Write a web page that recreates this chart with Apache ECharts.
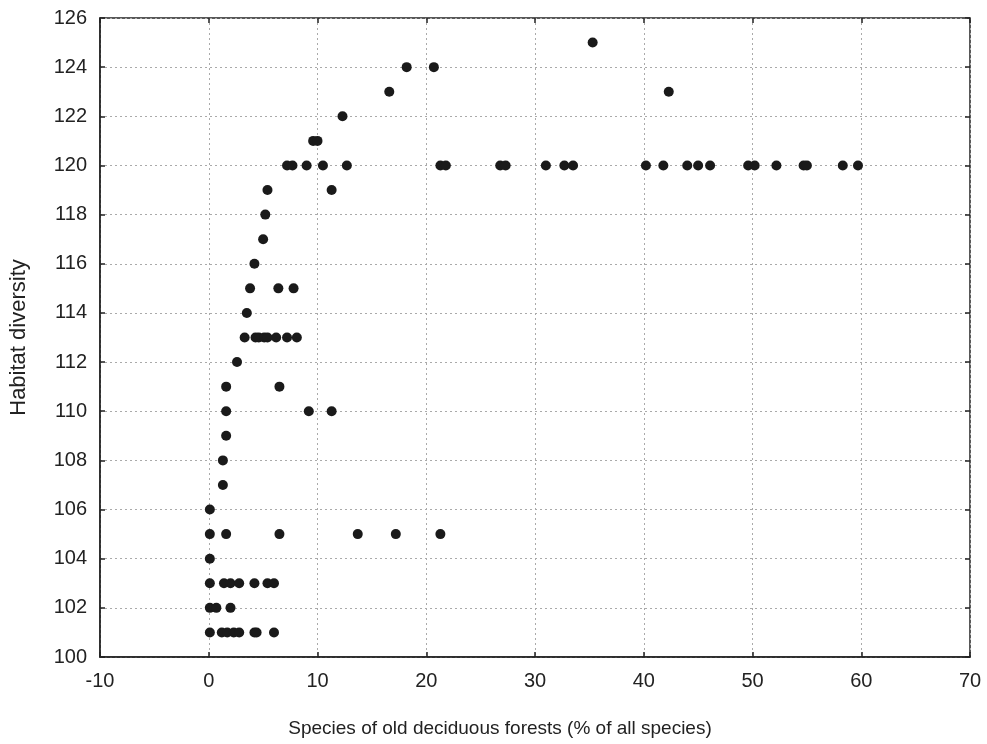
<!DOCTYPE html>
<html><head><meta charset="utf-8">
<script src="https://cdn.jsdelivr.net/npm/echarts@6/dist/echarts.min.js"></script>
<style>html,body{margin:0;padding:0;background:#fff}#c{width:987px;height:744px}</style>
</head><body><div id="c"></div>
<script>
const xValues = [
  35.3,
  18.2, 20.7,
  16.6, 42.3,
  12.3,
  9.6, 10.0,
  7.2, 7.7, 9.0, 10.5, 12.7, 21.3, 21.8, 26.8, 27.3, 31.0, 32.7, 33.5, 40.2, 41.8, 44.0, 45.0, 46.1, 49.6, 50.2, 52.2, 54.7, 55.0, 58.3, 59.7,
  5.4, 11.3,
  5.2,
  5.0,
  4.2,
  3.8, 6.4, 7.8,
  3.5,
  3.3, 4.3, 4.6, 5.1, 5.4, 6.2, 7.2, 8.1,
  2.6,
  1.6, 6.5,
  1.6, 9.2, 11.3,
  1.6,
  1.3,
  1.3,
  0.1,
  0.1, 1.6, 6.5, 13.7, 17.2, 21.3,
  0.1,
  0.1, 1.4, 2.0, 2.8, 4.2, 5.4, 6.0,
  0.1, 0.7, 2.0,
  0.1, 1.2, 1.7, 2.3, 2.8, 4.2, 4.4, 6.0
];
const yValues = [
  125,
  124, 124,
  123, 123,
  122,
  121, 121,
  120, 120, 120, 120, 120, 120, 120, 120, 120, 120, 120, 120, 120, 120, 120, 120, 120, 120, 120, 120, 120, 120, 120, 120,
  119, 119,
  118,
  117,
  116,
  115, 115, 115,
  114,
  113, 113, 113, 113, 113, 113, 113, 113,
  112,
  111, 111,
  110, 110, 110,
  109,
  108,
  107,
  106,
  105, 105, 105, 105, 105, 105,
  104,
  103, 103, 103, 103, 103, 103, 103,
  102, 102, 102,
  101, 101, 101, 101, 101, 101, 101, 101
];
const xTicks = { min: -10, max: 70, interval: 10 };
const yTicks = { min: 100, max: 126, interval: 2 };
const xName = 'Species of old deciduous forests (% of all species)';
const yName = 'Habitat diversity';

const points = xValues.map((x, i) => [x, yValues[i]]);
const font = 'Liberation Sans, Arial, sans-serif';
const gridLine = { show: true, lineStyle: { color: '#aaa', type: [2, 3], width: 1 } };
const tick = { show: true, inside: true, length: 5, lineStyle: { color: '#222', width: 1.5 } };
const chart = echarts.init(document.getElementById('c'));
chart.setOption({
  animation: false,
  grid: { left: 100, right: 17, top: 18, bottom: 87, show: true, borderColor: '#222', borderWidth: 1.5, backgroundColor: '#fff', containLabel: false, outerBoundsMode: 'none' },
  xAxis: [{
    type: 'value', min: xTicks.min, max: xTicks.max, interval: xTicks.interval,
    name: xName, nameLocation: 'middle', nameGap: 62,
    nameTextStyle: { fontFamily: font, fontSize: 19, color: '#222', padding: [0, 70, 0, 0] },
    axisLine: { show: true, onZero: false, lineStyle: { color: '#222', width: 1.5 } },
    axisTick: tick,
    axisLabel: { fontFamily: font, fontSize: 20, color: '#222', margin: 14 },
    splitLine: gridLine
  }, {
    type: 'value', position: 'top', min: xTicks.min, max: xTicks.max, interval: xTicks.interval,
    axisLine: { show: false, onZero: false },
    axisTick: tick,
    axisLabel: { show: false }, splitLine: { show: false }
  }],
  yAxis: [{
    type: 'value', min: yTicks.min, max: yTicks.max, interval: yTicks.interval,
    name: yName, nameLocation: 'middle', nameGap: 70, nameRotate: 90,
    nameTextStyle: { fontFamily: font, fontSize: 22, color: '#222' },
    axisLine: { show: true, onZero: false, lineStyle: { color: '#222', width: 1.5 } },
    axisTick: tick,
    axisLabel: { fontFamily: font, fontSize: 20, color: '#222', margin: 13 },
    splitLine: gridLine
  }, {
    type: 'value', position: 'right', min: yTicks.min, max: yTicks.max, interval: yTicks.interval,
    axisLine: { show: false, onZero: false },
    axisTick: tick,
    axisLabel: { show: false }, splitLine: { show: false }
  }],
  series: [{
    type: 'scatter', data: points, symbol: 'circle', symbolSize: 10,
    itemStyle: { color: '#1a1a1a', opacity: 1 }
  }]
});
</script>
</body></html>
